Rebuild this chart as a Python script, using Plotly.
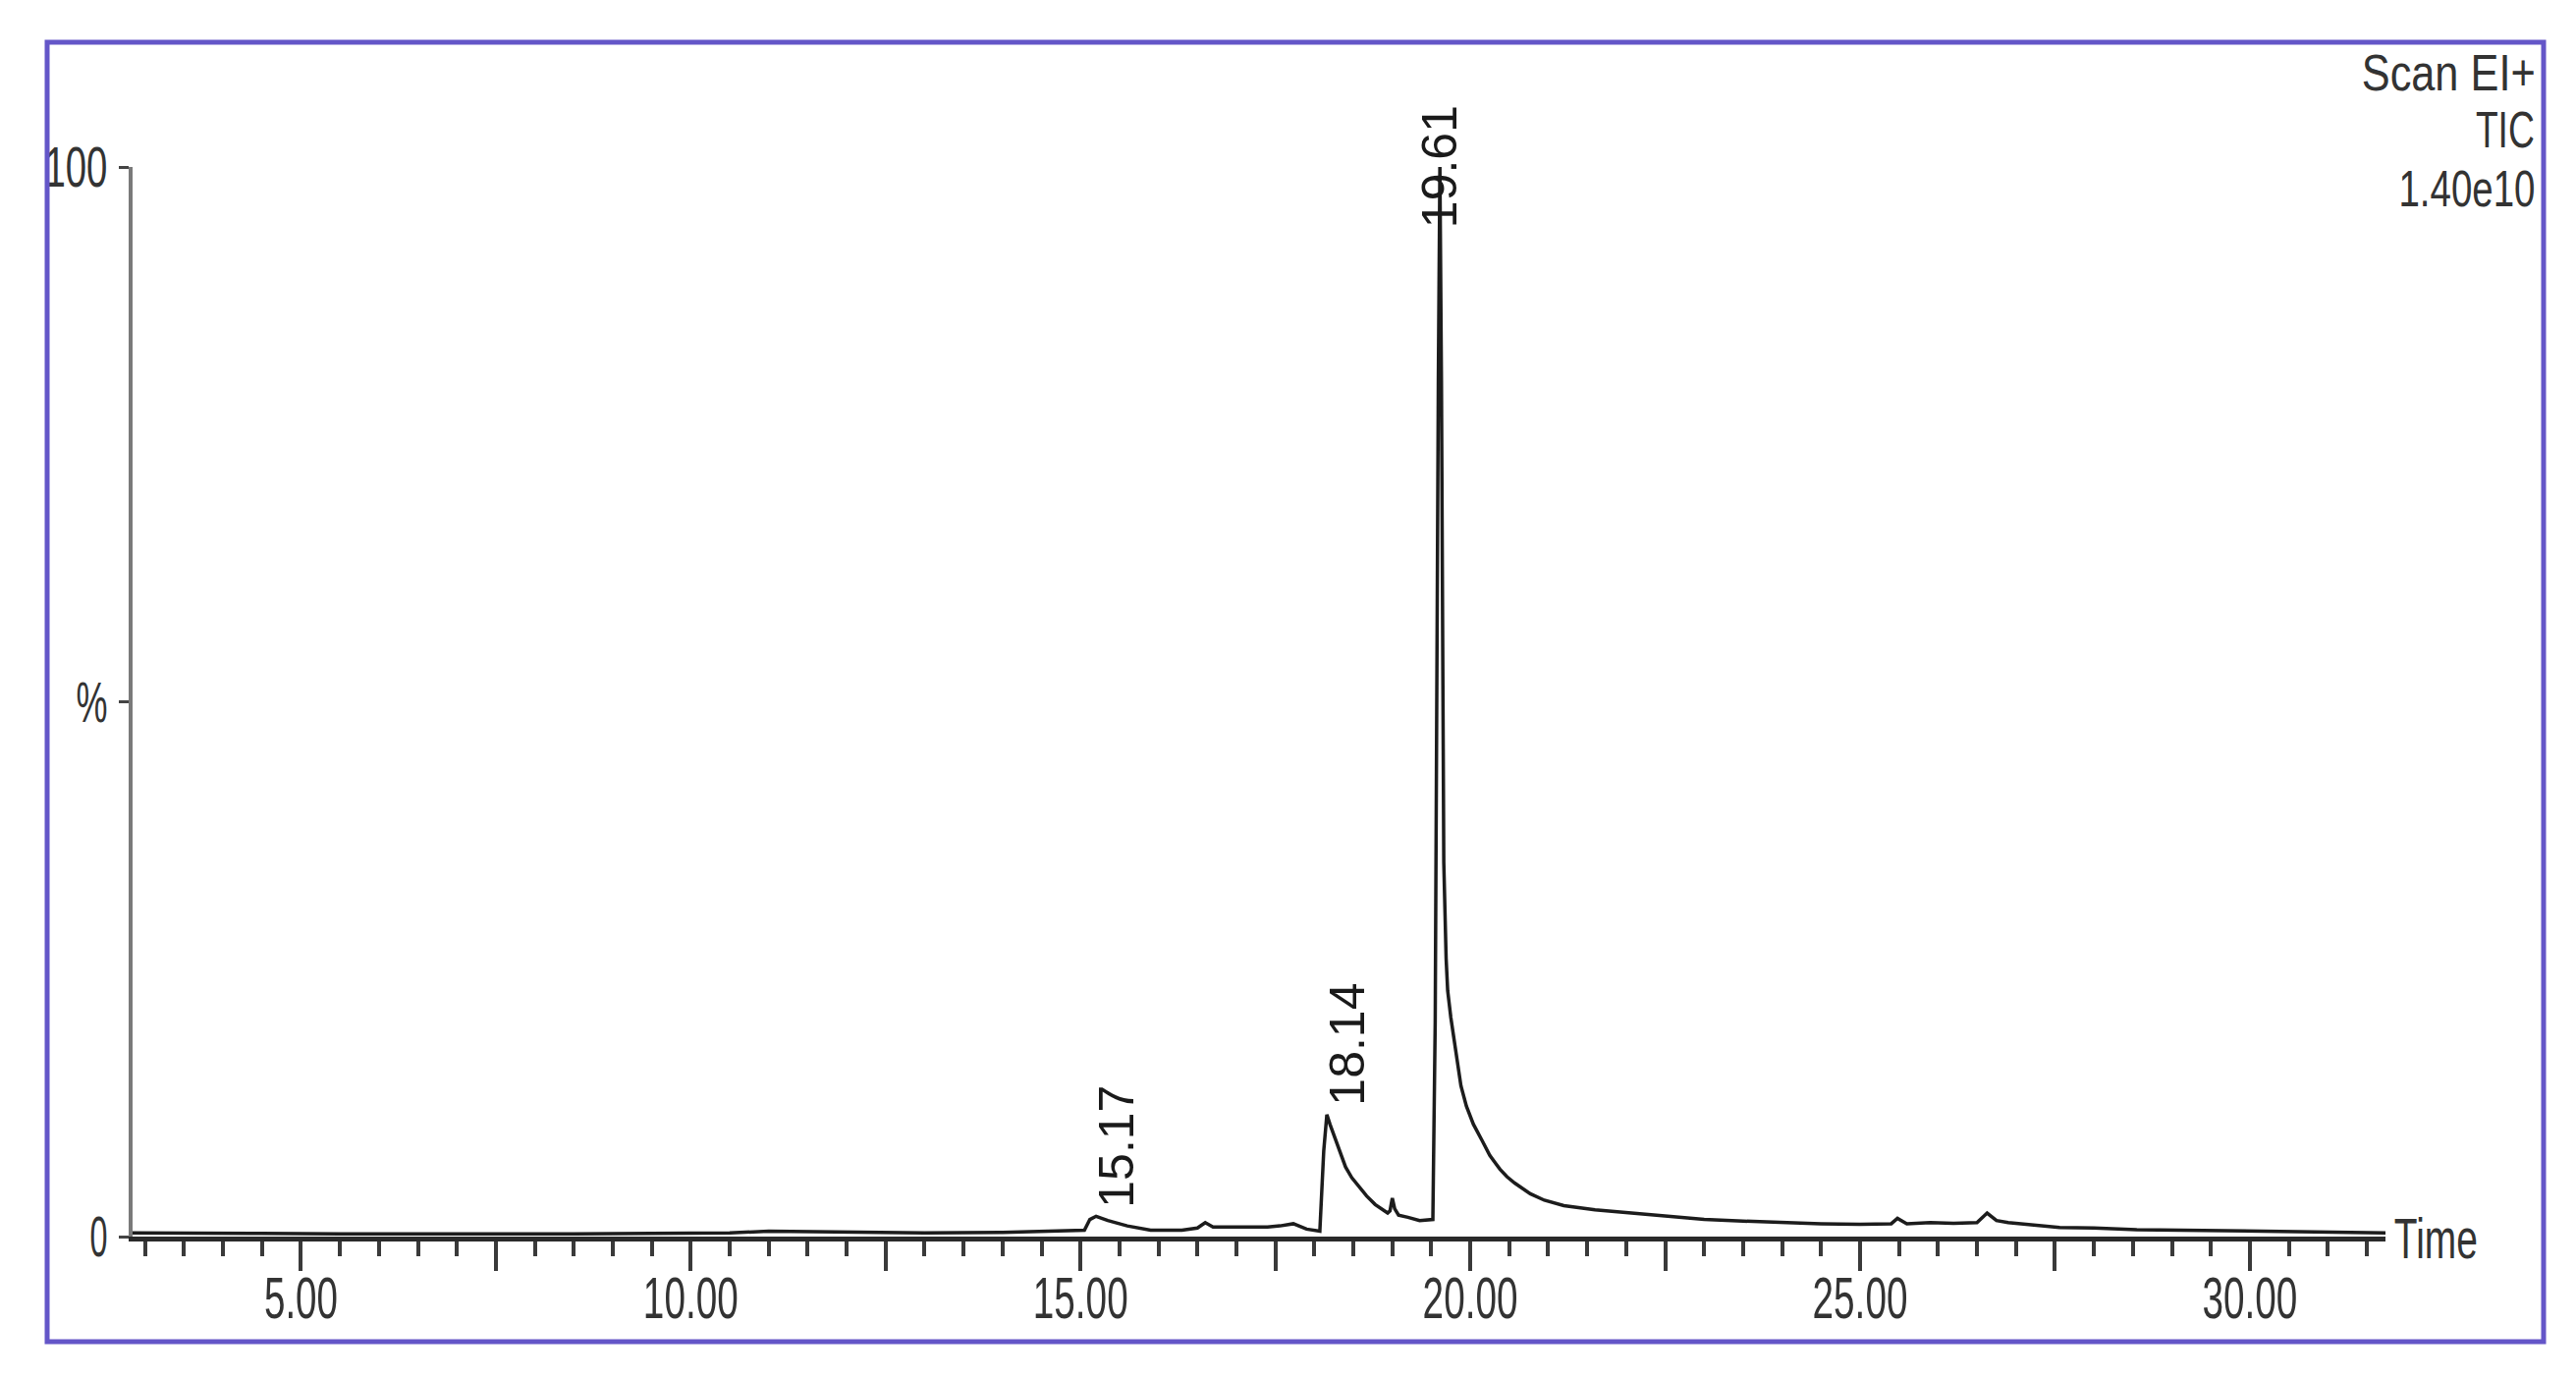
import json
import plotly.graph_objects as go

# ---------------- data ----------------
time_min = [2.84, 3.5, 4.5, 5.5, 6.5, 7.5, 8.5, 9.5, 10.5, 11.0, 11.5, 12.0, 13.0, 14.0,
            14.8, 15.05, 15.12, 15.2, 15.35, 15.6, 15.9, 16.3, 16.5, 16.6, 16.7, 17.0,
            17.4, 17.56, 17.73, 17.9, 18.07, 18.12, 18.16, 18.2, 18.23, 18.3, 18.4, 18.48,
            18.57, 18.67, 18.78, 18.86, 18.94, 18.97, 19.0, 19.03, 19.08, 19.2, 19.35,
            19.52, 19.55, 19.59, 19.61, 19.63, 19.66, 19.69, 19.71, 19.75, 19.79, 19.84,
            19.88, 19.95, 20.04, 20.15, 20.25, 20.38, 20.47, 20.57, 20.67, 20.77, 20.95,
            21.2, 21.6, 22.05, 22.5, 23.0, 23.5, 24.0, 24.5, 25.0, 25.4, 25.48, 25.6,
            25.9, 26.2, 26.5, 26.63, 26.75, 26.9, 27.56, 28.0, 28.55, 29.5, 30.5, 31.74]
intensity_pct = [0.35, 0.3, 0.3, 0.25, 0.25, 0.2, 0.25, 0.3, 0.35, 0.5, 0.45, 0.4, 0.35, 0.4,
                 0.5, 0.6, 1.6, 1.9, 1.5, 1.0, 0.6, 0.6, 0.8, 1.3, 0.9, 0.9,
                 0.9, 1.0, 1.2, 0.7, 0.5, 8.0, 11.4, 10.5, 9.9, 8.3, 6.5, 5.5,
                 4.7, 3.8, 3.0, 2.6, 2.2, 2.4, 3.6, 2.6, 2.0, 1.8, 1.5,
                 1.6, 20.0, 80.0, 100.0, 80.0, 35.0, 26.0, 23.0, 20.5, 18.5, 16.0,
                 14.1, 12.2, 10.5, 9.0, 7.6, 6.3, 5.6, 5.0, 4.5, 4.0, 3.4,
                 2.9, 2.5, 2.2, 1.9, 1.6, 1.45, 1.3, 1.2, 1.15, 1.2, 1.7, 1.2,
                 1.3, 1.25, 1.3, 2.2, 1.5, 1.3, 0.85, 0.8, 0.65, 0.55, 0.45, 0.35]

peak_labels = ["15.17", "18.14", "19.61"]
peak_times = [15.17, 18.14, 19.61]

x_tickvals = [5, 7.5, 10, 12.5, 15, 17.5, 20, 22.5, 25, 27.5, 30]
x_ticktext = ["5.00", "", "10.00", "", "15.00", "", "20.00", "", "25.00", "", "30.00"]
y_tickvals = [0, 50, 100]
y_ticktext = ["0", "%", "100"]

header_lines = ["Scan EI+", "TIC", "1.40e10"]

# ---------------- layout geometry (pixels) ----------------
W, H = 2623, 1404
PX_L, PX_R, PX_T, PX_B = 127, 2421, 162, 1251
X_RANGE = [2.84, 31.74]


def px_x(p):
    return (p - PX_L) / (PX_R - PX_L)


def px_y(p):
    return (PX_B - p) / (PX_B - PX_T)


FONT = "Liberation Sans, Arial, sans-serif"

# condensed look of the instrument font: rendered width (px) for each text
CONDENSED_WIDTH = {
    "5.00": 75, "10.00": 97, "15.00": 97, "20.00": 97, "25.00": 97, "30.00": 97,
    "0": 18, "%": 32, "100": 64,
    "Scan EI+": 177, "TIC": 60, "1.40e10": 139, "Time": 85,
}

fig = go.Figure()
fig.add_trace(go.Scatter(
    x=time_min, y=intensity_pct, mode="lines",
    line=dict(color="#1c1c1c", width=3.5), hoverinfo="x+y", showlegend=False,
))

# peak labels: (x offset in min, label centre in %)
label_offsets = [(0.29, 8.45), (0.28, 18.0), (0.0, 100.0)]
for txt, t, (dx, yc) in zip(peak_labels, peak_times, label_offsets):
    fig.add_annotation(x=t + dx, y=yc, xref="x", yref="y", text=txt, textangle=-90,
                       showarrow=False, font=dict(family=FONT, size=50, color="#1a1a1a"),
                       xanchor="center", yanchor="middle")

# header text at top right
HEADER_RIGHT = 2573
for line_txt, yc in zip(header_lines, [66, 124, 184]):
    cx = HEADER_RIGHT - CONDENSED_WIDTH[line_txt] / 2
    fig.add_annotation(x=px_x(cx), y=px_y(yc), xref="paper", yref="paper", text=line_txt,
                       showarrow=False, xanchor="center", yanchor="middle",
                       font=dict(family=FONT, size=52, color="#333333"))

# "Time" axis caption
fig.add_annotation(x=px_x(2430 + CONDENSED_WIDTH["Time"] / 2), y=px_y(1252),
                   xref="paper", yref="paper", text="Time",
                   showarrow=False, xanchor="center", yanchor="middle",
                   font=dict(family=FONT, size=58, color="#333333"))

# outer frame
fig.add_shape(type="rect", xref="paper", yref="paper",
              x0=px_x(40), x1=px_x(2582), y0=px_y(1358), y1=px_y(35),
              line=dict(color="#6456c8", width=5), fillcolor="rgba(0,0,0,0)", layer="above")

fig.update_layout(
    width=W, height=H, autosize=False,
    margin=dict(l=PX_L, r=W - PX_R, t=PX_T, b=H - PX_B, pad=0, autoexpand=False),
    paper_bgcolor="white", plot_bgcolor="white",
    showlegend=False,
    xaxis=dict(
        range=X_RANGE, showgrid=False, zeroline=False, automargin=False,
        showline=True, linewidth=5, linecolor="#2a2a2a",
        tickmode="array", tickvals=x_tickvals, ticktext=x_ticktext,
        ticks="outside", ticklen=30, tickwidth=4, tickcolor="#3a3a3a",
        minor=dict(tickmode="linear", tick0=0, dtick=0.5, ticks="outside",
                   ticklen=15, tickwidth=4, tickcolor="#3a3a3a", showgrid=False),
        tickfont=dict(family=FONT, size=60, color="#333333"),
        ticklabelstandoff=-24,
        fixedrange=True,
    ),
    yaxis=dict(
        range=[0, 100], showgrid=False, zeroline=False, automargin=False,
        showline=True, linewidth=4, linecolor="#7a7a7a",
        tickmode="array", tickvals=y_tickvals, ticktext=y_ticktext,
        ticks="outside", ticklen=10, tickwidth=3, tickcolor="#444444",
        tickfont=dict(family=FONT, size=58, color="#333333"),
        fixedrange=True,
    ),
)

post_js = """
var gd = document.getElementById('{plot_id}');
var widths = %s;
gd.querySelectorAll('text').forEach(function (t) {
  var s = (t.textContent || '').trim();
  if (!widths.hasOwnProperty(s)) return;
  var target = widths[s];
  var L = t.getComputedTextLength();
  if (!(L > 0)) return;
  if (t.hasAttribute('transform')) {
    t.setAttribute('textLength', String(target));
    t.setAttribute('lengthAdjust', 'spacingAndGlyphs');
  } else {
    t.style.transformBox = 'fill-box';
    t.style.transformOrigin = '50%% 50%%';
    t.style.transform = 'scaleX(' + (target / L).toFixed(4) + ')';
  }
});
""" % json.dumps(CONDENSED_WIDTH)

fig.write_html("out.html", post_script=post_js)
